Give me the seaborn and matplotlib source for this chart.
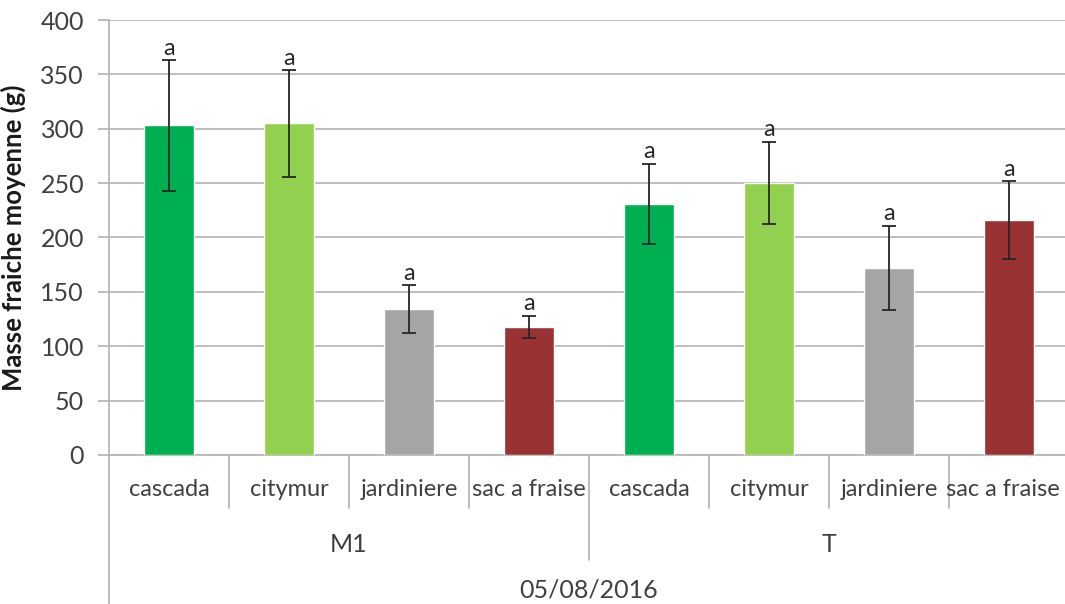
import numpy as np
import pandas as pd
import matplotlib
matplotlib.use("Agg")
import matplotlib.pyplot as plt
import matplotlib.transforms as mtransforms
import seaborn as sns

# data
containers = ["cascada", "citymur", "jardiniere", "sac a fraise"]
periods = ["M1", "T"]
date_label = "05/08/2016"
mass_m1 = [303, 305, 134, 118]
mass_t = [231, 250, 172, 216]
sd_m1 = [60, 49, 22, 10]
sd_t = [37, 38, 39, 36]
letters = ["a", "a", "a", "a", "a", "a", "a", "a"]

COLORS = {"cascada": "#00b050", "citymur": "#92d050",
          "jardiniere": "#a5a5a5", "sac a fraise": "#993333"}
TEXT = "#404040"
GRID = "#b3b3b3"

df = pd.DataFrame({
    "period": np.repeat(periods, len(containers)),
    "container": containers * len(periods),
    "mass": mass_m1 + mass_t,
    "sd": sd_m1 + sd_t,
})
df["key"] = df["period"] + "|" + df["container"]

sns.set_theme(style="white")
plt.rcParams["font.family"] = ["Lato", "DejaVu Sans"]

W, H = 1065, 604
fig = plt.figure(figsize=(W / 100, H / 100), dpi=100)
x0, x1, y_top, y_bot = 109, 1069, 20, 455
ax = fig.add_axes([x0 / W, (H - y_bot) / H, (x1 - x0) / W, (y_bot - y_top) / H])

sns.barplot(data=df, x="key", y="mass", hue="container", order=list(df["key"]),
            palette=COLORS, width=0.42, dodge=False, legend=False, ax=ax,
            saturation=1, errorbar=None, zorder=3)

# error bars and letters at the bar centres (patches come grouped by hue)
centres = sorted(p.get_x() + p.get_width() / 2 for p in ax.patches
                 if p.get_height() > 0)
ax.errorbar(centres, df["mass"], yerr=df["sd"], fmt="none", ecolor="#262626",
            elinewidth=1.3, capsize=5, capthick=1.3, zorder=4)
for xc, m, s, lt in zip(centres, df["mass"], df["sd"], letters):
    ax.annotate(lt, (xc, m + s), xytext=(0, 1), textcoords="offset points",
                ha="center", va="bottom", fontsize=17, color="#262626")

ax.set_xlim(-0.5, len(df) - 0.5)
ax.set_ylim(0, 400)
ax.set_yticks(np.arange(0, 401, 50))
ax.yaxis.grid(True, color=GRID, linewidth=1.2, zorder=0)
ax.set_axisbelow(True)
ax.tick_params(axis="y", labelsize=18, labelcolor=TEXT, length=8, color=GRID,
               width=1.2, left=True, pad=10)
ax.set_xticks([])
ax.set_xlabel("")
ax.set_ylabel("Masse fraiche moyenne (g)", fontsize=18.5, fontweight="bold",
              color="#1a1a1a")
ax.yaxis.set_label_coords(-(x0 - 26) / (x1 - x0), 0.5)
for side in ["top", "right"]:
    ax.spines[side].set_visible(False)
for side in ["left", "bottom"]:
    ax.spines[side].set_color(GRID)
    ax.spines[side].set_linewidth(1.2)

# multi-level category axis
trans = mtransforms.blended_transform_factory(ax.transData, ax.transAxes)
px = 1.0 / (y_bot - y_top)
n = len(containers)
for i in range(len(df) + 1):
    xb = i - 0.5
    if i == 0:
        depth = -(H - y_bot) * px
    elif i % n == 0:
        depth = -105 * px
    else:
        depth = -53 * px
    ax.plot([xb, xb], [0, depth], transform=trans, color=GRID, lw=1.2,
            clip_on=False)

for i, name in enumerate(df["container"]):
    # last label sits against the image edge, nudge it in a little
    xi = i - 0.05 if i == len(df) - 1 else i
    ax.text(xi, -35 * px, name, transform=trans, ha="center", va="center",
            fontsize=17, color=TEXT)
for j, per in enumerate(periods):
    ax.text(j * n + (n - 1) / 2, -90 * px, per, transform=trans, ha="center",
            va="center", fontsize=18, color=TEXT)
ax.text((len(df) - 1) / 2, -135 * px, date_label, transform=trans, ha="center",
        va="center", fontsize=18, color=TEXT)

fig.savefig("out.png", dpi=100)
